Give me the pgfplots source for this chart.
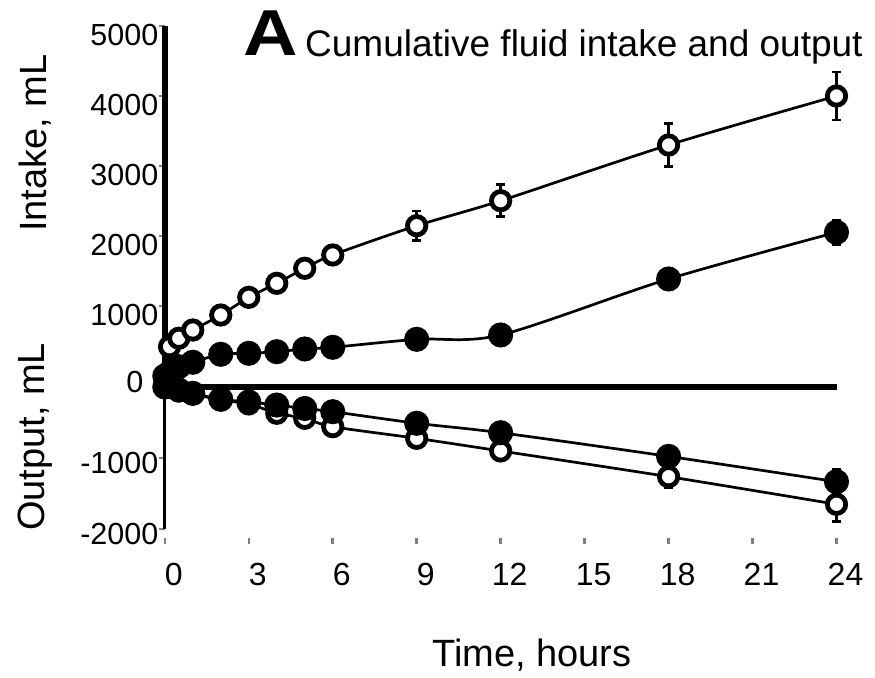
\documentclass[border=0pt]{standalone}
\usepackage{pgfplots}
\pgfplotsset{compat=1.18}
\usepackage{fontspec}
\setmainfont{Liberation Sans}

% cumulative intake (upper panel) and output (lower panel), mean +/- SD
\pgfplotstableread{
t     v     e
0     0     0
0.17  419   0
0.5   539   0
1     657   0
2     871   0
3     1124  0
4     1324  0
5     1539  0
6     1729  0
9     2147  210
12    2504  229
18    3300  305
24    4000  345
}\intakeOpen
\pgfplotstableread{
t     v     e
0     0     0
0.25  86    0
0.5   133   0
1     196   0
2     310   0
3     324   0
4     347   0
5     386   0
6     410   0
9     524   0
12    586   0
18    1386  0
24    2053  175
}\intakeFilled
\pgfplotstableread{
t     v      e
0     0      0
0.5   -56    0
1     -99    0
2     -183   0
3     -239   0
4     -370   0
5     -441   0
6     -559   0
9     -723   0
12    -901   0
18    -1263  159
24    -1652  245
}\outputOpen
\pgfplotstableread{
t     v      e
0     0      0
0.5   -42    0
1     -89    0
2     -173   0
3     -211   0
4     -254   0
5     -303   0
6     -348   0
9     -511   0
12    -644   0
18    -977   0
24    -1334  175
}\outputFilled

\pgfplotsset{
  panel/.style={
    scale only axis, width=671.7pt,
    xmin=0, xmax=24, clip=false,
    tick align=outside, major tick length=6pt,
    /pgf/number format/assume math mode=true,
    /pgf/number format/1000 sep={},
    yticklabel style={font=\fontsize{30.5}{30.5}\selectfont, xshift=3pt},
    ytick style={line width=2pt},
  },
  openser/.style={black, line width=2.7pt, smooth, tension=0.5,
    mark=*, mark size=9.2pt,
    mark options={line width=4.8pt, fill=white, draw=black, solid},
    error bars/.cd, y dir=both, y explicit,
    error bar style={line width=2.6pt},
    error mark options={line width=2.6pt, mark size=4.5pt, rotate=90}},
  filledser/.style={black, line width=2.7pt, smooth, tension=0.5,
    mark=*, mark size=11.2pt, mark options={fill=black, draw=none, solid},
    error bars/.cd, y dir=both, y explicit,
    error bar style={line width=2.6pt},
    error mark options={line width=2.6pt, mark size=4.5pt, rotate=90}},
}

\begin{document}
\begin{tikzpicture}
\useasboundingbox (0pt,0pt) rectangle (875pt,677pt);

% lower panel: output
\begin{axis}[panel,
  at={(164.8pt,148pt)}, anchor=south west, height=142pt,
  ymin=-2000, ymax=0,
  axis x line*=bottom, axis y line*=left,
  x axis line style={draw=none},
  y axis line style={-, line width=3pt},
  ytick={-2000,-1000}, yticklabel style={yshift=-5pt},
  xtick={0,3,...,24},
  xtick style={line width=2.5pt, yshift=-9pt},
  xticklabel style={font=\fontsize{32}{32}\selectfont, yshift=-25pt, xshift=9pt},
]
\draw[line width=5.5pt] (axis cs:0,0) -- (axis cs:24,0);
\addplot[openser] table[x=t, y=v, y error=e] {\outputOpen};
\addplot[filledser] table[x=t, y=v, y error=e] {\outputFilled};
\end{axis}

% upper panel: intake
\begin{axis}[panel,
  at={(164.8pt,301pt)}, anchor=south west, height=350pt,
  ymin=0, ymax=5000,
  axis x line=none, axis y line*=left,
  y axis line style={-, line width=5.5pt},
  ytick={1000,2000,...,5000}, yticklabel style={yshift=-9pt},
  extra y ticks={0},
  extra y tick style={major tick length=0pt,
    yticklabel style={xshift=-21pt, yshift=3pt}},
]
\addplot[openser] table[x=t, y=v, y error=e] {\intakeOpen};
\addplot[filledser] table[x=t, y=v, y error=e] {\intakeFilled};
\end{axis}

% titles and axis labels
\node[anchor=base east, inner sep=0] at (298pt,621pt)
  {\scalebox{1.3}[1.12]{\fontsize{58}{58}\selectfont\bfseries A}};
\node[anchor=base west, inner sep=0] at (305pt,620pt)
  {\fontsize{37}{37}\selectfont Cumulative fluid intake and output};
\node[rotate=90, inner sep=0] at (35pt,534pt)
  {\fontsize{38}{38}\selectfont Intake, mL};
\node[rotate=90, inner sep=0] at (35pt,240pt)
  {\fontsize{38}{38}\selectfont Output, mL};
\node[anchor=base, inner sep=0] at (532pt,10pt)
  {\fontsize{38}{38}\selectfont Time, hours};
\end{tikzpicture}
\end{document}
